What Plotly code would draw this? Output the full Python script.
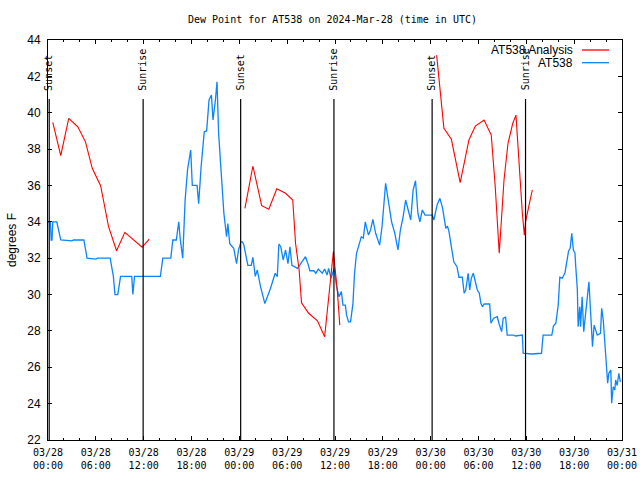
import plotly.graph_objects as go
import pandas as pd

START = pd.Timestamp("2024-03-28 00:00")

# ---- data (hours since 2024-03-28 00:00 UTC) ----
blue_hours = [0.0, 0.3, 0.4, 0.5, 0.6, 1.1, 1.6, 3.0, 3.2, 4.5, 4.9, 6.0, 6.2, 7.8, 8.2, 8.4, 8.75, 9.1,
              10.5, 10.65, 10.85, 12.0, 14.1, 14.4, 15.4, 15.66, 16.1, 16.25, 16.4, 16.6, 16.9, 17.2, 17.3,
              17.5, 17.9, 18.1, 18.7, 18.9, 19.2, 19.6, 19.9, 20.2, 20.5, 20.7, 21.0, 21.2, 21.4, 21.8,
              22.06, 22.4, 22.56, 22.8, 23.3, 23.65, 23.9, 24.2, 24.4, 24.57, 25.07, 25.5, 25.7, 26.0,
              26.25, 26.66, 27.2, 27.9, 28.5, 28.76, 28.96, 29.2, 29.5, 29.8, 30.1, 30.35, 30.6, 31.3,
              31.7, 32.3, 32.6, 32.85, 33.35, 33.6, 33.9, 34.4, 34.7, 35.0, 35.2, 35.5, 35.9, 36.2, 36.5,
              36.8, 37.0, 37.3, 37.45, 37.7, 37.95, 38.25, 38.45, 38.7, 39.0, 39.3, 39.55, 39.8, 40.2,
              40.46, 40.75, 41.1, 41.6, 41.9, 42.35, 42.6, 43.1, 43.5, 43.9, 44.2, 44.55, 44.86, 45.1,
              45.5, 45.8, 46.1, 46.4, 46.65, 46.95, 47.3, 48.2, 48.4, 48.8, 49.16, 49.5, 49.66, 49.9,
              50.1, 50.3, 50.5, 50.7, 50.9, 51.3, 51.55, 51.97, 52.2, 52.4, 52.7, 52.9, 53.1, 53.35,
              53.55, 53.85, 54.1, 54.3, 54.5, 54.7, 55.4, 55.56, 55.9, 56.36, 56.56, 56.9, 57.1, 57.4,
              57.6, 58.4, 58.65, 59.5, 59.6, 60.67, 61.9, 62.1, 63.2, 63.4, 63.7, 64.0, 64.2, 64.5,
              64.85, 65.0, 65.3, 65.5, 65.7, 65.9, 66.1, 66.2, 66.4, 66.5, 66.7, 66.8, 67.0, 67.2, 67.4,
              67.65, 67.85, 68.0, 68.2, 68.3, 68.5, 68.7, 68.9, 69.3, 69.45, 69.65, 69.86, 70.0, 70.2,
              70.35, 70.6, 70.7, 70.9, 71.1, 71.2, 71.4, 71.6, 71.8]
blue_values = [34.0, 34.0, 33.0, 33.0, 34.0, 34.0, 33.0, 32.95, 33.0, 33.0, 32.0, 31.95, 32.0, 32.0, 31.0,
               30.0, 30.0, 31.0, 31.0, 30.0, 31.0, 31.0, 31.0, 32.0, 32.0, 33.0, 33.0, 33.5, 34.0, 33.0,
               32.0, 35.2, 36.0, 36.85, 37.95, 36.0, 36.0, 35.0, 37.0, 38.96, 39.0, 40.7, 40.97, 39.6,
               40.7, 41.7, 38.87, 36.3, 34.47, 33.18, 33.9, 32.8, 32.54, 31.7, 32.45, 32.9, 32.9, 32.72,
               31.6, 31.6, 32.05, 31.0, 31.35, 30.43, 29.5, 30.33, 31.17, 30.98, 32.78, 32.63, 31.9,
               32.45, 31.7, 32.63, 31.6, 31.44, 31.7, 32.08, 31.7, 31.31, 31.31, 31.17, 31.4, 31.17,
               31.4, 31.07, 31.44, 30.9, 31.44, 30.43, 29.88, 30.16, 29.42, 29.42, 28.87, 28.5, 28.5,
               29.5, 31.17, 32.27, 32.72, 33.18, 33.1, 34.0, 33.27, 33.55, 34.14, 33.37, 32.72, 33.73,
               36.12, 35.38, 34.0, 33.37, 32.45, 33.55, 34.28, 35.2, 34.83, 34.1, 35.75, 36.26, 34.47,
               34.0, 34.65, 34.37, 34.37, 34.1, 34.92, 35.29, 34.74, 34.19, 33.64, 33.77, 33.46, 32.9,
               32.45, 31.8, 31.53, 30.95, 30.95, 30.07, 30.25, 31.17, 30.25, 30.9, 31.17, 30.8, 30.25,
               30.07, 29.52, 29.33, 29.48, 29.48, 28.42, 28.7, 28.78, 28.42, 27.96, 28.7, 28.75, 27.77,
               27.77, 27.72, 27.77, 26.77, 26.73, 26.77, 27.77, 27.77, 28.27, 28.42, 29.42, 30.95, 30.9,
               31.2, 31.6, 32.4, 32.54, 33.37, 32.45, 32.27, 31.53, 30.25, 28.23, 29.33, 28.23, 29.88,
               27.96, 28.78, 29.79, 30.7, 29.52, 27.68, 27.13, 28.32, 27.96, 27.77, 27.87, 29.24, 28.6,
               27.32, 26.22, 25.12, 25.67, 25.85, 24.02, 24.93, 24.75, 25.3, 25.0, 25.67, 25.2]

red_hours = [0.6, 1.6, 2.6, 3.74, 4.7, 5.55, 6.6, 7.3, 7.6, 8.6, 9.64, 11.8, 12.7, None,
             24.7, 25.7, 26.8, 27.7, 28.7, 29.8, 30.7, 31.05, 31.5, 31.8, 32.7, 33.8, 34.7, 35.1, 35.5,
             35.8, 35.95, 36.3, 36.6, None,
             48.75, 49.25, 49.66, 50.6, 51.1, 51.7, 52.2, 52.8, 53.6, 54.7, 55.6, 56.1, 56.6, 57.2,
             57.7, 58.3, 58.7, 59.1, 59.5, 59.75, 59.9, 60.3, 60.75]
red_values = [39.47, 37.64, 39.69, 39.23, 38.4, 36.94, 35.99, 34.47, 33.73, 32.41, 33.42, 32.6, 33.05, None,
              34.74, 37.07, 34.89, 34.69, 35.82, 35.57, 35.2, 32.82, 31.35, 29.55, 28.97, 28.56, 27.68,
              29.5, 31.07, 32.36, 31.7, 30.16, 28.32, None,
              43.17, 40.88, 39.14, 38.54, 37.4, 36.15, 37.22, 38.5, 39.27, 39.6, 38.77, 35.93, 32.27,
              36.3, 38.32, 39.42, 39.87, 37.03, 34.47, 33.27, 34.0, 34.83, 35.75]

sun_labels = ["Sunset", "Sunrise", "Sunset", "Sunrise", "Sunset", "Sunrise"]
sun_times = ["2024-03-28 00:09", "2024-03-28 11:56", "2024-03-29 00:10",
             "2024-03-29 11:52", "2024-03-30 00:11", "2024-03-30 11:54"]

xtick_hours = [0, 6, 12, 18, 24, 30, 36, 42, 48, 54, 60, 66, 72]
xtick_labels = ["03/28<br>00:00", "03/28<br>06:00", "03/28<br>12:00", "03/28<br>18:00",
                "03/29<br>00:00", "03/29<br>06:00", "03/29<br>12:00", "03/29<br>18:00",
                "03/30<br>00:00", "03/30<br>06:00", "03/30<br>12:00", "03/30<br>18:00",
                "03/31<br>00:00"]

series_names = ["AT538 Analysis", "AT538"]
series_colors = ["#ff0000", "#0a84ff"]


def to_time(hours):
    return [None if h is None else START + pd.Timedelta(hours=h) for h in hours]


MONO = "DejaVu Sans Mono"
SANS = "Liberation Sans, Arial, sans-serif"

FIG_W, FIG_H = 640, 480
# plot area in window pixels: x 48..622, y 40..440
L, R, T, B = 48, 622, 40, 440
PW, PH = R - L, B - T


def px_x(px):
    return (px - L) / PW


def px_y(py):
    return 1 - (py - T) / PH


fig = go.Figure()
fig.add_trace(go.Scatter(x=to_time(blue_hours), y=blue_values, mode="lines", name=series_names[1],
                         line=dict(color=series_colors[1], width=1.3), connectgaps=False))
fig.add_trace(go.Scatter(x=to_time(red_hours), y=red_values, mode="lines", name=series_names[0],
                         line=dict(color=series_colors[0], width=1.1), connectgaps=False))

# sunrise / sunset markers
for lab, t in zip(sun_labels, sun_times):
    fig.add_shape(type="line", xref="x", yref="y", x0=t, x1=t, y0=22, y1=40.75,
                  line=dict(color="black", width=1.2))
    fig.add_annotation(x=t, y=41.1, xref="x", yref="y", text=lab, textangle=-90,
                       showarrow=False, xanchor="center", yanchor="bottom",
                       font=dict(family=MONO, size=10, color="black"))

# legend drawn gnuplot-style: text then sample line
for i, (nm, col) in enumerate(zip(series_names, series_colors)):
    ypaper = px_y(50 + i * 12.7)
    fig.add_annotation(x=px_x(574), y=ypaper, xref="paper", yref="paper", text=nm,
                       showarrow=False, xanchor="right", yanchor="middle", borderpad=0,
                       font=dict(family=SANS, size=12, color="black"))
    fig.add_shape(type="line", xref="paper", yref="paper", x0=px_x(582), x1=px_x(609),
                  y0=ypaper, y1=ypaper, line=dict(color=col, width=1.3))

# y axis title
fig.add_annotation(x=px_x(12), y=0.5, xref="paper", yref="paper", text="degrees F",
                   textangle=-90, showarrow=False, xanchor="center", yanchor="middle",
                   borderpad=0, font=dict(family=SANS, size=12, color="black"))

# title
fig.add_annotation(x=px_x(332), y=px_y(20), xref="paper", yref="paper",
                   text="Dew Point for AT538 on 2024-Mar-28 (time in UTC)",
                   showarrow=False, xanchor="center", yanchor="middle",
                   font=dict(family=MONO, size=10, color="black"))

fig.update_layout(
    width=FIG_W, height=FIG_H,
    margin=dict(l=L, r=FIG_W - R, t=T, b=FIG_H - B, autoexpand=False),
    paper_bgcolor="white", plot_bgcolor="white",
    showlegend=False,
)

fig.update_xaxes(
    range=[START, START + pd.Timedelta(hours=72)],
    tickmode="array", tickvals=to_time(xtick_hours), ticktext=xtick_labels,
    ticks="inside", ticklen=4, tickcolor="black", tickwidth=1,
    showline=True, linecolor="black", linewidth=1, mirror="ticks",
    showgrid=False, zeroline=False, automargin=False,
    tickfont=dict(family=MONO, size=10, color="black"),
    ticklabelstandoff=3,
    minor=dict(ticks="inside", ticklen=2, dtick=2 * 3600 * 1000, tick0=START, tickcolor="black",
               showgrid=False),
)
fig.update_yaxes(
    range=[22, 44], dtick=2, tick0=22,
    ticks="inside", ticklen=4, tickcolor="black", tickwidth=1,
    showline=True, linecolor="black", linewidth=1, mirror="ticks",
    showgrid=False, zeroline=False, automargin=False,
    tickfont=dict(family=SANS, size=12, color="black"),
    ticklabelstandoff=4,
)

fig.write_html(
    "out.html",
    config={"displayModeBar": False},
    post_script="document.body.style.margin='0';document.body.style.overflow='hidden';",
)
